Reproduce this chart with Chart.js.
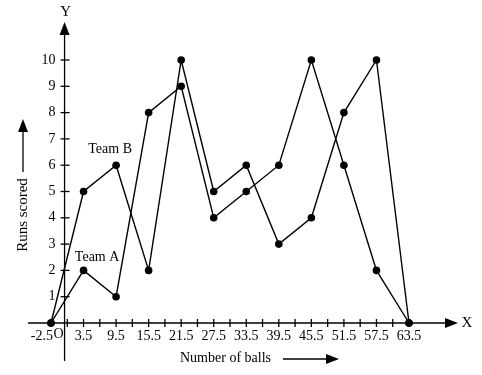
<!DOCTYPE html>
<html>
<head>
<meta charset="utf-8">
<script src="https://cdn.jsdelivr.net/npm/chart.js@4"></script>
<style>
  html, body { margin: 0; padding: 0; background: #fff; }
  #wrap { width: 482px; height: 375px; }
</style>
</head>
<body>
<div id="wrap"><canvas id="runsChart" width="482" height="375"></canvas></div>
<script>
// balls (class marks) and runs for each team
const balls = [-2.5, 3.5, 9.5, 15.5, 21.5, 27.5, 33.5, 39.5, 45.5, 51.5, 57.5, 63.5];
const teamA = [0, 2, 1, 8, 9, 4, 5, 6, 10, 6, 2, 0];
const teamB = [0, 5, 6, 2, 10, 5, 6, 3, 4, 8, 10, 0];
const xTickLabels = ['-2.5', '3.5', '9.5', '15.5', '21.5', '27.5', '33.5', '39.5', '45.5', '51.5', '57.5', '63.5'];
const yTicks = [1, 2, 3, 4, 5, 6, 7, 8, 9, 10];

const FONT = '"Liberation Serif", "DejaVu Serif", serif';

function arrowHead(c, x, y, dir) {
    c.beginPath();
    if (dir === 'up') {
        c.moveTo(x, y);
        c.lineTo(x - 5, y + 13);
        c.lineTo(x + 5, y + 13);
    } else {
        c.moveTo(x, y);
        c.lineTo(x - 13, y - 5);
        c.lineTo(x - 13, y + 5);
    }
    c.closePath();
    c.fill();
}

const axesPlugin = {
    id: 'schoolAxes',
    afterDraw(chart) {
        const c = chart.ctx;
        const xs = chart.scales.x, ys = chart.scales.y;
        const x0 = xs.getPixelForValue(0);
        const y0 = ys.getPixelForValue(0);
        c.save();
        c.strokeStyle = '#000';
        c.fillStyle = '#000';
        c.lineWidth = 1.3;

        // x axis
        c.beginPath();
        c.moveTo(28, y0);
        c.lineTo(448, y0);
        c.stroke();
        arrowHead(c, 458, y0, 'right');
        // y axis
        c.beginPath();
        c.moveTo(x0, 361);
        c.lineTo(x0, 32);
        c.stroke();
        arrowHead(c, x0, 22, 'up');

        // x ticks: major on class marks, minor in between
        for (let v = -2.5; v <= 63.5; v += 3) {
            const px = xs.getPixelForValue(v);
            c.beginPath();
            c.moveTo(px, y0 - 4);
            c.lineTo(px, y0 + 4);
            c.stroke();
        }
        // y ticks
        yTicks.forEach(v => {
            const py = ys.getPixelForValue(v);
            c.beginPath();
            c.moveTo(x0 - 4, py);
            c.lineTo(x0 + 5, py);
            c.stroke();
        });

        c.font = '14px ' + FONT;
        c.textBaseline = 'middle';
        c.textAlign = 'center';
        balls.forEach((v, i) => {
            const px = xs.getPixelForValue(v);
            if (i === 0) {
                c.textAlign = 'right';
                c.fillText(xTickLabels[i], px + 2, y0 + 13);
                c.textAlign = 'center';
            } else {
                c.fillText(xTickLabels[i], px, y0 + 13);
            }
        });
        c.textAlign = 'right';
        yTicks.forEach(v => {
            c.fillText(String(v), x0 - 9, ys.getPixelForValue(v));
        });
        c.fillText('O', x0 - 1, y0 + 11);

        // axis letters
        c.font = '15px ' + FONT;
        c.textAlign = 'center';
        c.fillText('Y', x0 + 1, 12);
        c.fillText('X', 467, y0);

        // axis titles with arrows
        c.font = '14px ' + FONT;
        c.textAlign = 'left';
        c.fillText('Number of balls', 180, 358);
        c.beginPath();
        c.moveTo(283, 359);
        c.lineTo(328, 359);
        c.stroke();
        arrowHead(c, 339, 359, 'right');

        c.save();
        c.translate(23, 215);
        c.rotate(-Math.PI / 2);
        c.textAlign = 'center';
        c.font = '15px ' + FONT;
        c.fillText('Runs scored', 0, 0);
        c.restore();
        c.beginPath();
        c.moveTo(23, 172);
        c.lineTo(23, 130);
        c.stroke();
        arrowHead(c, 23, 119, 'up');

        // series labels
        c.font = '14px ' + FONT;
        c.textAlign = 'center';
        c.fillText('Team B', xs.getPixelForValue(8.4), ys.getPixelForValue(6.62));
        c.fillText('Team A', xs.getPixelForValue(6.0), ys.getPixelForValue(2.51));
        c.restore();
    }
};

const toPoints = vals => vals.map((y, i) => ({ x: balls[i], y }));

const lineStyle = {
    borderColor: '#000',
    backgroundColor: '#000',
    borderWidth: 1.4,
    pointRadius: 3.8,
    pointHoverRadius: 3.8,
    pointBackgroundColor: '#000',
    pointBorderWidth: 0,
    tension: 0,
    fill: false,
    clip: false
};

new Chart(document.getElementById('runsChart'), {
    type: 'line',
    data: {
        datasets: [
            { label: 'Team A', data: toPoints(teamA), ...lineStyle },
            { label: 'Team B', data: toPoints(teamB), ...lineStyle }
        ]
    },
    options: {
        responsive: false,
        animation: false,
        events: [],
        layout: { padding: { left: 51, right: 73, top: 60, bottom: 52 } },
        plugins: {
            legend: { display: false },
            tooltip: { enabled: false }
        },
        scales: {
            x: { type: 'linear', min: -2.5, max: 63.5, display: false },
            y: { type: 'linear', min: 0, max: 10, display: false }
        }
    },
    plugins: [axesPlugin]
});
</script>
</body>
</html>
